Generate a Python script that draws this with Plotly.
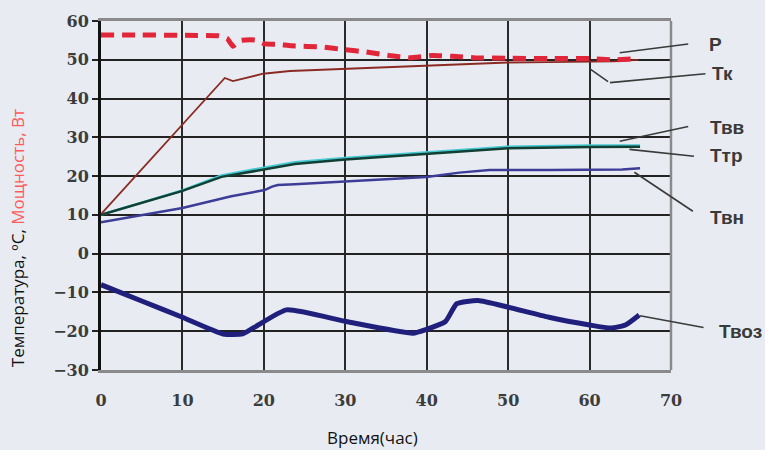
import plotly.graph_objects as go

# ---------------- data ----------------
p_x = [0, 5, 10, 14.5, 15.5, 16.2, 17.2, 18.9, 20.1, 21.7, 23.4, 27.2, 29.9, 32.6, 35.4, 37.9, 40.7, 43.2, 45.9, 50, 55, 60, 63, 65.8]
p_y = [56.4, 56.4, 56.3, 56.2, 55.5, 53.5, 55.0, 55.1, 54.1, 54.0, 53.6, 53.3, 52.6, 52.0, 51.1, 50.5, 51.1, 50.9, 50.5, 50.4, 50.3, 50.3, 50.0, 50.3]

tk_x = [0, 15.2, 16.2, 18, 19.9, 23.2, 29.3, 35, 40, 45, 50, 55, 60, 63, 66]
tk_y = [10.2, 45.3, 44.5, 45.5, 46.4, 47.1, 47.6, 48.0, 48.4, 49.0, 49.3, 49.4, 49.5, 49.6, 50.0]

ttr_x = [0, 10, 14.8, 20, 23.8, 30, 40, 47.7, 50, 60, 66.2]
ttr_y = [10.0, 16.2, 19.8, 21.6, 23.1, 24.3, 25.8, 26.9, 27.2, 27.5, 27.6]

tvv_x = [0, 10, 14.8, 20, 23.8, 30, 40, 47.7, 50, 60, 66.2]
tvv_y = [10.0, 16.3, 20.2, 22.1, 23.6, 24.7, 26.2, 27.3, 27.6, 27.9, 27.9]

tvn_x = [0, 10, 16, 20.1, 21.0, 21.7, 23.8, 30, 40, 44, 47.7, 55, 60, 64, 66.2]
tvn_y = [8.1, 11.8, 14.8, 16.4, 17.3, 17.7, 17.9, 18.7, 19.8, 20.9, 21.6, 21.6, 21.6, 21.7, 22.0]

tvoz_x = [0, 5, 10, 15, 17.4, 19.3, 22.8, 30.1, 38.3, 40, 42.3, 43.7, 46.3, 50, 55, 60, 62.6, 64.4, 66.1]
tvoz_y = [-8.0, -12.2, -16.4, -20.7, -20.7, -18.4, -14.5, -17.5, -20.5, -19.5, -17.5, -12.9, -12.1, -13.8, -16.4, -18.4, -19.2, -18.4, -15.8]

x_ticks = [0, 10, 20, 30, 40, 50, 60, 70]
y_ticks = [-30, -20, -10, 0, 10, 20, 30, 40, 50, 60]

series_labels = ["Р", "Тк", "Твв", "Ттр", "Твн", "Твоз"]
# leader targets (data coords) for each label
label_points_x = [63.7, 62.5, 63.7, 64.9, 65.5, 66.2]
label_points_y = [51.8, 44.1, 29.0, 26.9, 21.0, -16.0]

x_title = "Время(час)"
y_title = "Температура, ºС, <span style='color:#ff5a5a'>Мощность, Вт</span>"

# ---------------- layout geometry ----------------
W, H = 765, 450
ML, MR, MT, MB = 101, 94, 18, 80
PW, PH = W - ML - MR, H - MT - MB
BG = "#e8ecf2"


def px_to_paper(px, py):
    return (px - ML) / PW, (H - MB - py) / PH


fig = go.Figure()

fig.add_trace(go.Scatter(x=tvv_x, y=tvv_y, mode="lines", name="Твв",
                         line=dict(color="#46c9d2", width=2.5)))
fig.add_trace(go.Scatter(x=ttr_x, y=ttr_y, mode="lines", name="Ттр",
                         line=dict(color="#123f33", width=2.5)))
fig.add_trace(go.Scatter(x=tvn_x, y=tvn_y, mode="lines", name="Твн",
                         line=dict(color="#3d3d98", width=2.5)))
fig.add_trace(go.Scatter(x=tk_x, y=tk_y, mode="lines", name="Тк",
                         line=dict(color="#8b2a22", width=1.8)))
fig.add_trace(go.Scatter(x=p_x, y=p_y, mode="lines", name="Р",
                         line=dict(color="#e2263a", width=5, dash="13px,8px", shape="spline", smoothing=0.3)))
fig.add_trace(go.Scatter(x=tvoz_x, y=tvoz_y, mode="lines", name="Твоз",
                         line=dict(color="#20207c", width=5, shape="spline", smoothing=0.5)))

label_font = dict(family="Liberation Sans", size=19, color="#3a3a3a", weight="bold")

# label text positions (pixel centres) and leader tails (pixel offsets from target)
text_px = [(715, 42), (722, 71), (727, 125), (726, 154), (727, 216), (740, 331)]
tail_off = [(70, -9), (97, -9), (70, -15), (66, 7), (60, 40), (65, 12)]

annotations = []
for lab, (tx, ty), lx, ly, (ax, ay) in zip(series_labels, text_px, label_points_x, label_points_y, tail_off):
    xp, yp = px_to_paper(tx, ty)
    annotations.append(dict(text=lab, x=xp, y=yp, xref="paper", yref="paper",
                            showarrow=False, xanchor="center", yanchor="middle", font=label_font))
    annotations.append(dict(text="", x=lx, y=ly, xref="x", yref="y", ax=ax, ay=ay,
                            showarrow=True, arrowhead=0, arrowwidth=1.6, arrowcolor="#3a3a3a"))
# curved part of the Тк leader
annotations.append(dict(text="", x=60, y=47.7, xref="x", yref="y", ax=20, ay=14,
                        showarrow=True, arrowhead=0, arrowwidth=1.6, arrowcolor="#3a3a3a"))

xp, yp = px_to_paper(17, 237)
annotations.append(dict(text=y_title, x=xp, y=yp, xref="paper", yref="paper", textangle=-90,
                        showarrow=False, xanchor="center", yanchor="middle",
                        font=dict(family="Open Sans", size=17, color="#111111")))
xp, yp = px_to_paper(372, 438)
annotations.append(dict(text=x_title, x=xp, y=yp, xref="paper", yref="paper",
                        showarrow=False, xanchor="center", yanchor="middle",
                        font=dict(family="Open Sans", size=17, color="#111111")))

tick_font = dict(family="DejaVu Serif", size=16, color="#3c3c3c", weight="bold")

fig.update_layout(
    width=W, height=H,
    margin=dict(l=ML, r=MR, t=MT, b=MB),
    paper_bgcolor=BG, plot_bgcolor=BG,
    showlegend=False,
    annotations=annotations,
    shapes=[dict(type="line", xref="paper", yref="paper", x0=1, x1=1, y0=0, y1=1,
                 line=dict(color="#8a8a8a", width=2.5))],
    xaxis=dict(range=[0, 70], tickmode="array", tickvals=x_ticks, showgrid=True, gridcolor="#2a2a2a", gridwidth=1.6,
               zeroline=False, showline=True, mirror=True, linecolor="#8a8a8a", linewidth=2.5,
               ticks="outside", ticklen=14, tickcolor="rgba(0,0,0,0)", tickfont=tick_font),
    yaxis=dict(range=[-30, 60], tickmode="array", tickvals=y_ticks, showgrid=True, gridcolor="#222222", gridwidth=2,
               zeroline=False, showline=True, linecolor="#111111", linewidth=3,
               ticks="outside", ticklen=6, tickwidth=2, tickcolor="#222222",
               tickfont=tick_font),
)

fig.write_html("out.html")
